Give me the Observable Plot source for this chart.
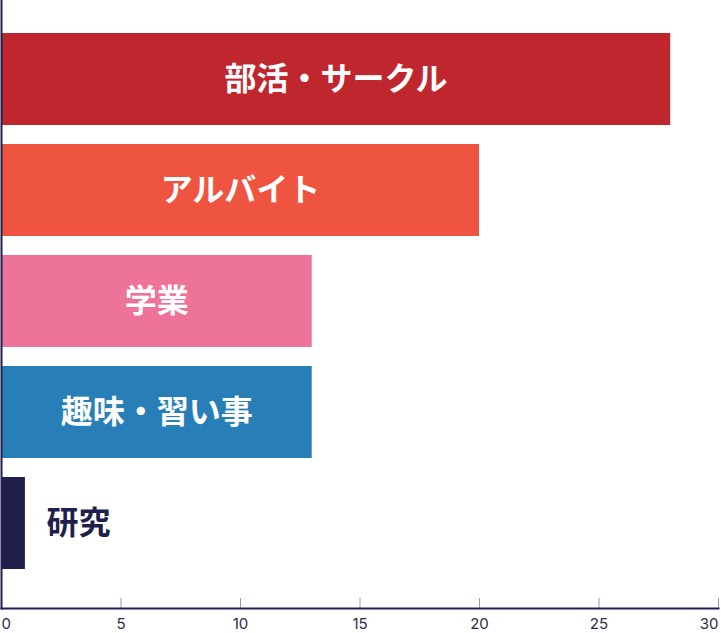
<!DOCTYPE html>
<html>
<head>
<meta charset="utf-8">
<script src="https://cdn.jsdelivr.net/npm/d3@7"></script>
<script src="https://cdn.jsdelivr.net/npm/@observablehq/plot@0.6"></script>
<style>
  html, body { margin: 0; padding: 0; background: #fff; }
  #chart svg { display: block; }
</style>
</head>
<body>
<div id="chart"></div>
<script>
const categories = ["部活・サークル", "アルバイト", "学業", "趣味・習い事", "研究"];
const values = [28, 20, 13, 13, 1];
const palette = ["#c0262e", "#ef5441", "#ee7399", "#287eb6", "#201e4b"];
const xTicks = [0, 5, 10, 15, 20, 25, 30];

const data = categories.map((c, i) => ({category: c, value: values[i]}));
const navy = "#1f1f4d";
const font = "'Noto Sans CJK JP', 'Noto Sans', sans-serif";

const chart = Plot.plot({
  width: 721,
  height: 633,
  marginTop: 0,
  marginBottom: 25,
  marginLeft: 1,
  marginRight: 3,
  style: {fontFamily: font, background: "#fff"},
  x: {domain: [0, 30], axis: null},
  y: {domain: categories, padding: 0.17, insetTop: 12.5, insetBottom: 17.5, axis: null},
  color: {domain: categories, range: palette},
  marks: [
    Plot.barX(data, {y: "category", x: "value", fill: "category"}),
    Plot.text(data.filter(d => d.value >= 5), {
      y: "category", x: d => d.value / 2, text: "category",
      fill: "white", fontSize: 32, fontWeight: "bold", textAnchor: "middle"
    }),
    Plot.text(data.filter(d => d.value < 5), {
      y: "category", x: "value", text: "category", dx: 21,
      fill: navy, fontSize: 32, fontWeight: "bold", textAnchor: "start"
    }),
    Plot.ruleX(xTicks.filter(t => t > 0), {x: d => d, insetTop: 598, stroke: "#9a9aae", strokeWidth: 1}),
    Plot.frame({anchor: "bottom", stroke: navy, strokeWidth: 2}),
    Plot.frame({anchor: "left", stroke: navy, strokeWidth: 2}),
    Plot.text(xTicks.filter(t => t === 0), {x: d => d, text: d => String(d), frameAnchor: "bottom", dy: 20, textAnchor: "start", fontSize: 15, fill: "#2b2b47", fontFamily: "Inter"}),
    Plot.text(xTicks.filter(t => t > 0 && t < 30), {x: d => d, text: d => String(d), frameAnchor: "bottom", dy: 20, textAnchor: "middle", fontSize: 15, fill: "#2b2b47", fontFamily: "Inter"}),
    Plot.text(xTicks.filter(t => t === 30), {x: d => d, text: d => String(d), frameAnchor: "bottom", dy: 20, textAnchor: "end", fontSize: 15, fill: "#2b2b47", fontFamily: "Inter"})
  ]
});
document.getElementById("chart").append(chart);
</script>
</body>
</html>
